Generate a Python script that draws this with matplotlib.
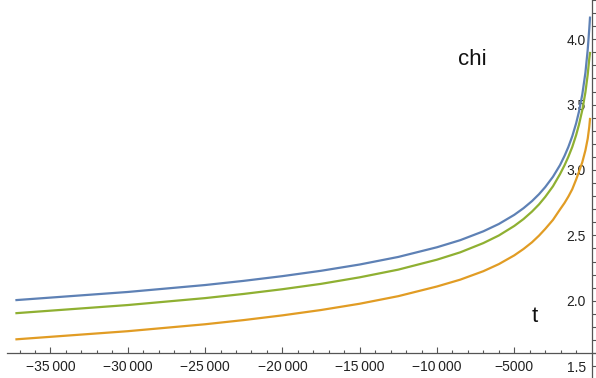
import matplotlib
matplotlib.use("Agg")
import matplotlib.pyplot as plt
from matplotlib.ticker import FixedLocator, FuncFormatter

# valores
t = [-37200, -30000, -25000, -22500, -20000, -17500, -15000, -12500,
     -10000, -8500, -7000, -6000, -5000, -4400, -3855, -3400, -3000,
     -2500, -2044, -1750, -1500, -1250, -1000, -815, -600, -400,
     -250, -150, -103]
chi_azul = [2.005, 2.067, 2.120, 2.152, 2.188, 2.229, 2.277, 2.335,
            2.409, 2.463, 2.531, 2.587, 2.657, 2.708, 2.762, 2.815, 2.869,
            2.948, 3.037, 3.108, 3.177, 3.258, 3.357, 3.447, 3.579, 3.744,
            3.921, 4.08, 4.165]
chi_verde = [1.905, 1.967, 2.020, 2.052, 2.088, 2.129, 2.179, 2.238,
             2.314, 2.370, 2.441, 2.499, 2.572, 2.625, 2.682, 2.737, 2.794,
             2.875, 2.968, 3.036, 3.102, 3.176, 3.267, 3.347, 3.459, 3.594,
             3.731, 3.85, 3.895]
chi_naranja = [1.705, 1.767, 1.820, 1.852, 1.888, 1.929, 1.977, 2.035,
               2.109, 2.161, 2.226, 2.280, 2.347, 2.396, 2.447, 2.498, 2.549,
               2.618, 2.698, 2.748, 2.797, 2.853, 2.927, 2.987, 3.06, 3.15,
               3.24, 3.33, 3.39]

x_ticks = [-35000, -30000, -25000, -20000, -15000, -10000, -5000]
y_ticks = [1.5, 2.0, 2.5, 3.0, 3.5, 4.0]

plt.rcParams['font.family'] = ['Liberation Sans', 'DejaVu Sans']

fig = plt.figure(figsize=(5.96, 3.78), dpi=100)
ax = fig.add_axes([0, 0, 1, 1])

ax.plot(t, chi_naranja, color='#E19C24', lw=1.6)
ax.plot(t, chi_verde, color='#8FB032', lw=1.6)
ax.plot(t, chi_azul, color='#5E81B5', lw=1.6)

ax.set_xlim(-38266, 285)
ax.set_ylim(1.409, 4.30)

for s in ['top', 'right']:
    ax.spines[s].set_visible(False)
ax.spines['left'].set_position(('data', 0))
ax.spines['bottom'].set_position(('data', 1.6))
ax.spines['bottom'].set_bounds(-37830, 285)
for s in ['left', 'bottom']:
    ax.spines[s].set_color('#555555')
    ax.spines[s].set_linewidth(0.9)


def fmt_x(v, pos):
    n = int(round(abs(v)))
    s = str(n)
    if n >= 10000:
        s = s[:-3] + '\u2009' + s[-3:]
    return '\u2212' + s


ax.xaxis.set_major_locator(FixedLocator(x_ticks))
ax.xaxis.set_minor_locator(FixedLocator([v for v in range(-37000, 0, 1000) if v % 5000]))
ax.xaxis.set_major_formatter(FuncFormatter(fmt_x))
ax.yaxis.set_major_locator(FixedLocator(y_ticks))
ax.yaxis.set_minor_locator(FixedLocator([round(1.5 + 0.1 * i, 1) for i in range(29) if i % 5]))
ax.yaxis.set_major_formatter(FuncFormatter(lambda v, p: f'{v:.1f}'))

ax.tick_params(which='both', direction='in', color='#555555', width=0.8,
               labelsize=10, labelcolor='#222222')
ax.tick_params(axis='x', which='major', length=4, pad=5)
ax.tick_params(axis='x', which='minor', length=2)
ax.tick_params(axis='y', which='major', length=4.5, pad=4)
ax.tick_params(axis='y', which='minor', length=2.8)

ax.text(-7740, 3.803, 'chi', fontsize=16, ha='center', va='baseline', color='#111111')
ax.text(-3660, 1.837, 't', fontsize=16, ha='center', va='baseline', color='#111111')

fig.savefig('out.png', dpi=100)
